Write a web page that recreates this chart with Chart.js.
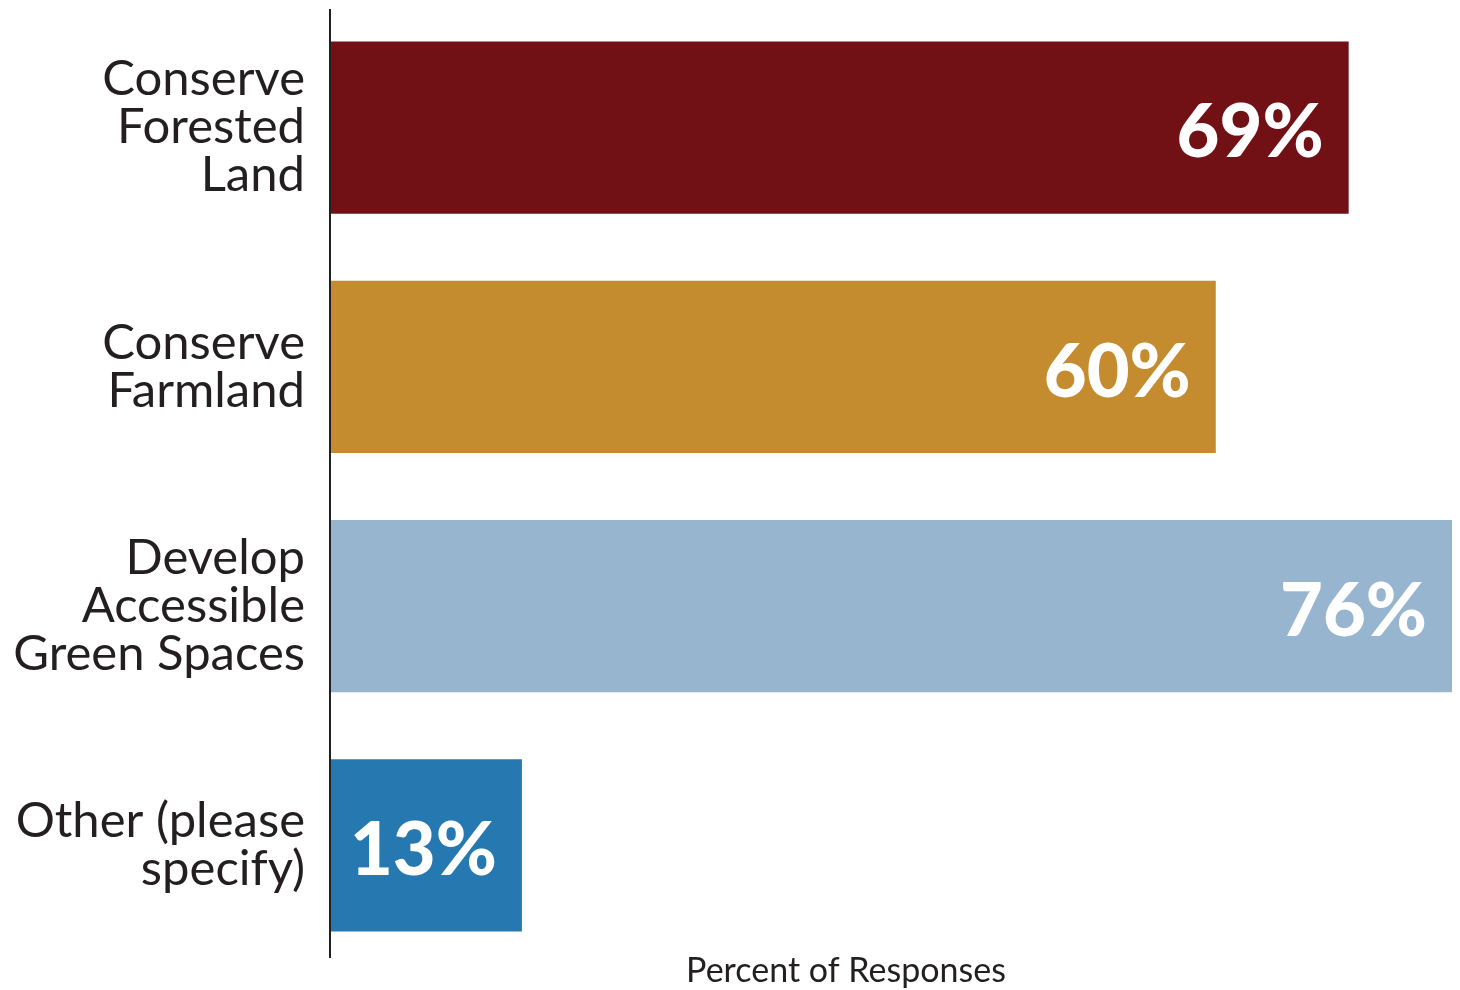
<!DOCTYPE html>
<html>
<head>
<meta charset="utf-8">
<script src="https://cdn.jsdelivr.net/npm/chart.js@4/dist/chart.umd.min.js"></script>
<style>
  html, body { margin: 0; padding: 0; background: #ffffff; }
  #wrap { width: 1460px; height: 990px; position: relative; }
</style>
</head>
<body>
<div id="wrap"><canvas id="responsesChart"></canvas></div>
<script>
// --- data ---
const categories = [
    ['Conserve', 'Forested', 'Land'],
    ['Conserve', 'Farmland'],
    ['Develop', 'Accessible', 'Green Spaces'],
    ['Other (please', 'specify)']
];
const percentValues = [69, 60, 76, 13];
const barColors = ['#721115', '#C48C2E', '#97B5CF', '#2679B0'];
const axisTitle = 'Percent of Responses';

const textColor = '#231F20';
const fontFamily = 'Lato, "Open Sans", "DejaVu Sans", sans-serif';

// value labels drawn inside the bar ends
const valueLabels = {
    id: 'valueLabels',
    afterDatasetsDraw(chart) {
        const { ctx } = chart;
        const meta = chart.getDatasetMeta(0);
        ctx.save();
        ctx.fillStyle = '#ffffff';
        ctx.font = `900 74px ${fontFamily}`;
        ctx.textAlign = 'right';
        ctx.textBaseline = 'middle';
        meta.data.forEach((bar, i) => {
            ctx.fillText(percentValues[i] + '%', bar.x - 25, bar.y + 6);
        });
        ctx.restore();
    }
};

// axis line and bottom title
const axisDecor = {
    id: 'axisDecor',
    afterDraw(chart) {
        const { ctx, chartArea } = chart;
        ctx.save();
        ctx.strokeStyle = '#231F20';
        ctx.lineWidth = 2;
        ctx.beginPath();
        ctx.moveTo(chartArea.left, chartArea.top + 1);
        ctx.lineTo(chartArea.left, chartArea.bottom - 7);
        ctx.stroke();

        ctx.fillStyle = textColor;
        ctx.font = `34px ${fontFamily}`;
        ctx.textAlign = 'center';
        ctx.textBaseline = 'middle';
        ctx.fillText(axisTitle, 846, 971);
        ctx.restore();
    }
};

const ctx = document.getElementById('responsesChart').getContext('2d');
new Chart(ctx, {
    type: 'bar',
    data: {
        labels: categories,
        datasets: [{
            data: percentValues,
            backgroundColor: barColors,
            borderWidth: 0,
            categoryPercentage: 1,
            barPercentage: 0.72
        }]
    },
    options: {
        indexAxis: 'y',
        responsive: true,
        maintainAspectRatio: false,
        animation: false,
        devicePixelRatio: 1,
        layout: {
            padding: { top: 8, right: 8, bottom: 25, left: 0 }
        },
        plugins: {
            legend: { display: false },
            tooltip: { enabled: false }
        },
        scales: {
            x: {
                display: false,
                min: 0,
                max: 76
            },
            y: {
                grid: { display: false, drawTicks: false },
                border: { display: false },
                ticks: {
                    color: textColor,
                    padding: 25,
                    font: { family: fontFamily, size: 49, lineHeight: 0.98 }
                },
                afterFit(scale) {
                    scale.width = 330;
                    scale.paddingTop = 0;
                    scale.paddingBottom = 0;
                }
            }
        }
    },
    plugins: [valueLabels, axisDecor]
});
</script>
</body>
</html>
